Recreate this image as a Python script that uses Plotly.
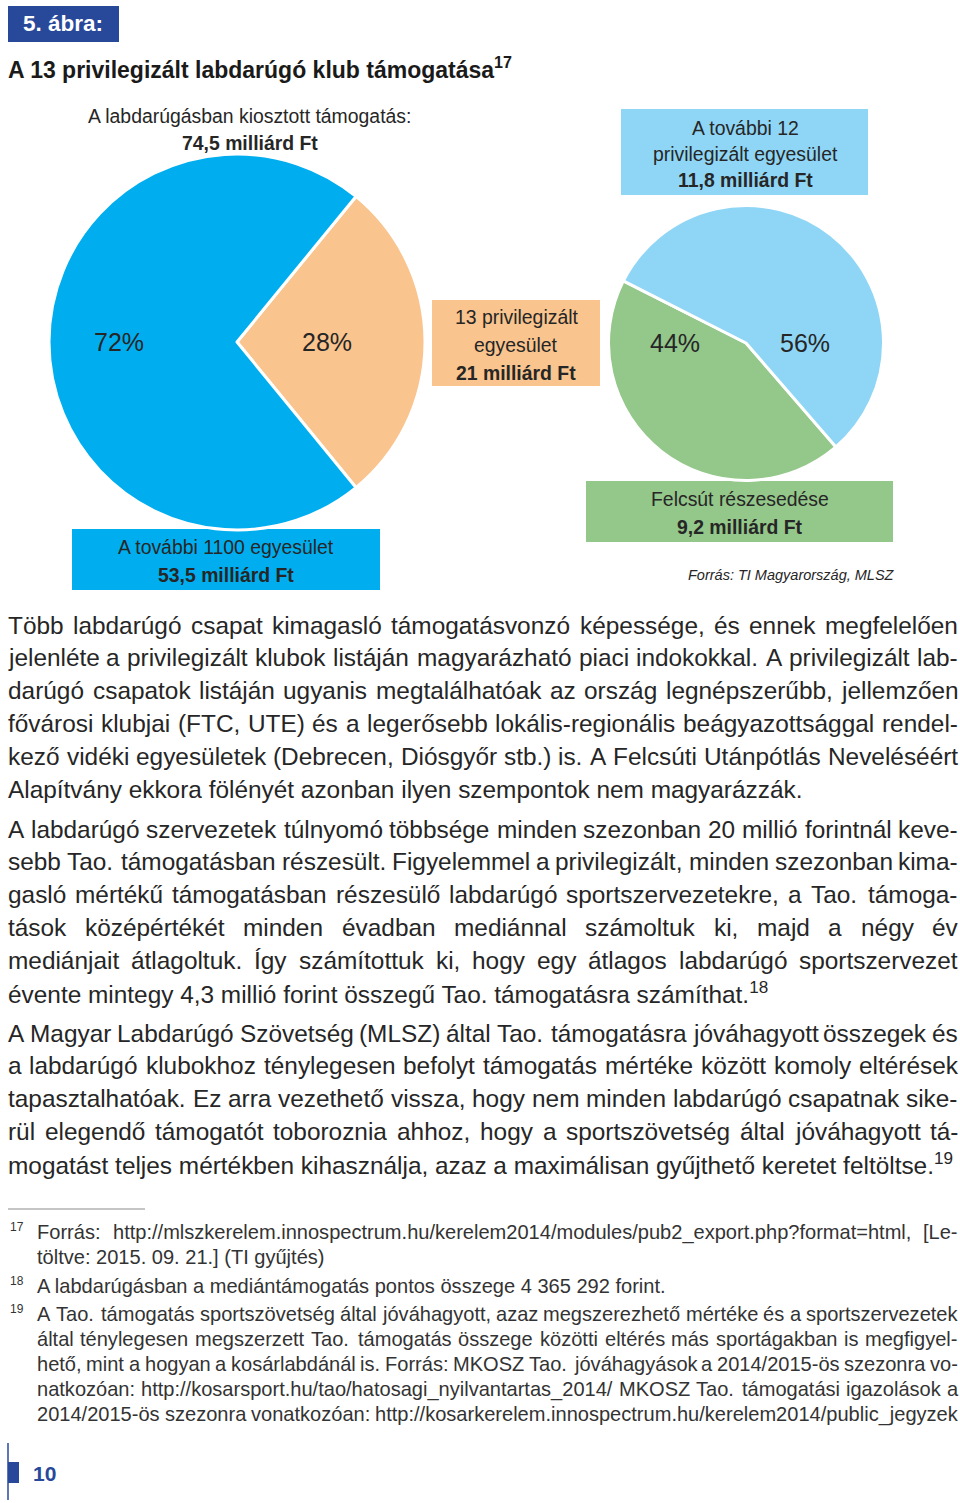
import re
import plotly.graph_objects as go

W, H = 960, 1503

# ------------------------------------------------------------------ data
left_labels = ["13 privilegizált egyesület", "A további 1100 egyesület"]
left_values = [21.0, 53.5]            # milliárd Ft
right_labels = ["Felcsút részesedése", "A további 12 privilegizált egyesület"]
right_values = [9.2, 11.8]            # milliárd Ft

fig_tag = "5. ábra:"
fig_title = "A 13 privilegizált labdarúgó klub támogatása"
title_note = "17"
total_caption = "A labdarúgásban kiosztott támogatás:"
source_text = "Forrás: TI Magyarország, MLSZ"
unit = "milliárd Ft"

para1 = [
    "Több labdarúgó csapat kimagasló támogatásvonzó képessége, és ennek megfelelően",
    "jelenléte a privilegizált klubok listáján magyarázható piaci indokokkal. A privilegizált lab-",
    "darúgó csapatok listáján ugyanis megtalálhatóak az ország legnépszerűbb, jellemzően",
    "fővárosi klubjai (FTC, UTE) és a legerősebb lokális-regionális beágyazottsággal rendel-",
    "kező vidéki egyesületek (Debrecen, Diósgyőr stb.) is. A Felcsúti Utánpótlás Neveléséért",
    "Alapítvány ekkora fölényét azonban ilyen szempontok nem magyarázzák.",
]
para2 = [
    "A labdarúgó szervezetek túlnyomó többsége minden szezonban 20 millió forintnál keve-",
    "sebb Tao. támogatásban részesült. Figyelemmel a privilegizált, minden szezonban kima-",
    "gasló mértékű támogatásban részesülő labdarúgó sportszervezetekre, a Tao. támoga-",
    "tások középértékét minden évadban mediánnal számoltuk ki, majd a négy év",
    "mediánjait átlagoltuk. Így számítottuk ki, hogy egy átlagos labdarúgó sportszervezet",
    "évente mintegy 4,3 millió forint összegű Tao. támogatásra számíthat.<sup>18</sup>",
]
para3 = [
    "A Magyar Labdarúgó Szövetség (MLSZ) által Tao. támogatásra jóváhagyott összegek és",
    "a labdarúgó klubokhoz ténylegesen befolyt támogatás mértéke között komoly eltérések",
    "tapasztalhatóak. Ez arra vezethető vissza, hogy nem minden labdarúgó csapatnak sike-",
    "rül elegendő támogatót toboroznia ahhoz, hogy a sportszövetség által jóváhagyott tá-",
    "mogatást teljes mértékben kihasználja, azaz a maximálisan gyűjthető keretet feltöltse.<sup>19</sup>",
]
footnote_nums = ["17", "18", "19"]
footnote_lines = [
    ["Forrás:  http://mlszkerelem.innospectrum.hu/kerelem2014/modules/pub2_export.php?format=html,  [Le-",
     "töltve: 2015. 09. 21.] (TI gyűjtés)"],
    ["A labdarúgásban a mediántámogatás pontos összege 4 365 292 forint."],
    ["A Tao. támogatás sportszövetség által jóváhagyott, azaz megszerezhető mértéke és a sportszervezetek",
     "által ténylegesen megszerzett Tao. támogatás összege közötti eltérés más sportágakban is megfigyel-",
     "hető, mint a hogyan a kosárlabdánál is. Forrás: MKOSZ Tao. jóváhagyások a 2014/2015-ös szezonra vo-",
     "natkozóan: http://kosarsport.hu/tao/hatosagi_nyilvantartas_2014/ MKOSZ Tao. támogatási igazolások a",
     "2014/2015-ös szezonra vonatkozóan: http://kosarkerelem.innospectrum.hu/kerelem2014/public_jegyzek"],
]
page_number = "10"

# ------------------------------------------------------------------ styles
C_BLUE = "#00aeef"
C_ORANGE = "#f9c48d"
C_LBLUE = "#8fd6f6"
C_GREEN = "#94c78a"
C_DARK = "#28489a"
C_TEXT = "#262626"
BODY_FONT = "Liberation Sans, Arial, Helvetica, sans-serif"
LABEL_FONT = BODY_FONT

# Arial-compatible advance widths (per 1000 em) for justification
REG = {' ': 278, '!': 278, '%': 889, '(': 333, ')': 333, ',': 278, '-': 333, '.': 278, '/': 278,
       ':': 278, ';': 278, '?': 556, '=': 584, '[': 278, ']': 278, '_': 556,
       'A': 667, 'B': 667, 'C': 722, 'D': 722, 'E': 667, 'F': 611, 'G': 778, 'H': 722, 'I': 278,
       'J': 500, 'K': 667, 'L': 556, 'M': 833, 'N': 722, 'O': 778, 'P': 667, 'Q': 778, 'R': 722,
       'S': 667, 'T': 611, 'U': 722, 'V': 667, 'W': 944, 'X': 667, 'Y': 667, 'Z': 611,
       'a': 556, 'b': 556, 'c': 500, 'd': 556, 'e': 556, 'f': 278, 'g': 556, 'h': 556, 'i': 222,
       'j': 222, 'k': 500, 'l': 222, 'm': 833, 'n': 556, 'o': 556, 'p': 556, 'q': 556, 'r': 333,
       's': 500, 't': 278, 'u': 556, 'v': 500, 'w': 722, 'x': 500, 'y': 500, 'z': 500,
       'á': 556, 'é': 556, 'í': 278, 'ó': 556, 'ö': 556, 'ő': 556, 'ú': 556, 'ü': 556, 'ű': 556,
       'Á': 667, 'É': 667, 'Í': 278, 'Ó': 778, 'Ö': 778, 'Ő': 778, 'Ú': 722, 'Ü': 722, 'Ű': 722}
for d in "0123456789":
    REG[d] = 556


def units(s):
    s = re.sub(r"<sup>.*?</sup>", "", s)
    return sum(REG.get(c, 556) for c in s)


def X(px):
    return px / W


def Y(py):
    return 1 - py / H


annotations = []
shapes = []


def txt(x, y, s, size, color=C_TEXT, family=BODY_FONT, anchor="left"):
    annotations.append(dict(
        x=X(x), y=Y(y), xref="paper", yref="paper", text=s, showarrow=False,
        xanchor=anchor, yanchor="middle", borderpad=0, borderwidth=0,
        font=dict(size=size, color=color, family=family)))


def rect(x0, y0, x1, y1, color):
    shapes.append(dict(type="rect", xref="paper", yref="paper", x0=X(x0), x1=X(x1),
                       y0=Y(y1), y1=Y(y0), fillcolor=color, line=dict(width=0), layer="below"))


def line(x0, y0, x1, y1, color, width):
    shapes.append(dict(type="line", xref="paper", yref="paper", x0=X(x0), x1=X(x1),
                       y0=Y(y0), y1=Y(y1), line=dict(color=color, width=width)))


def fmt(v):
    s = f"{v:.1f}"
    if s.endswith(".0"):
        s = s[:-2]
    return s.replace(".", ",")


def fit_size(lines, avail, min_gap=0.2):
    best = 1e9
    for ln in lines:
        words = ln.split()
        u = sum(units(w) for w in words) / 1000 + min_gap * (len(words) - 1)
        best = min(best, avail / u)
    return best


def justify(ln, x0, x1, y, fs, color):
    words = ln.split()
    widths = [units(w) * fs / 1000 for w in words]
    gap = (x1 - x0 - sum(widths)) / max(len(words) - 1, 1)
    x = x0
    for w, wd in zip(words, widths):
        txt(x, y, w, fs, color=color)
        x += wd + gap


# ------------------------------------------------------------------ pies
LCX, LCY, LR = 237, 342, 188
RCX, RCY, RR = 746, 343, 137.5
RIGHT_MID_ANGLE = 218

ltot = sum(left_values)
rtot = sum(right_values)


def dom(cx, cy, r):
    return dict(x=[X(cx - r), X(cx + r)], y=[Y(cy + r), Y(cy - r)])


fig = go.Figure()
fig.add_trace(go.Pie(
    labels=left_labels, values=left_values, sort=False, direction="clockwise",
    rotation=90 - 180 * left_values[0] / ltot, domain=dom(LCX, LCY, LR),
    marker=dict(colors=[C_ORANGE, C_BLUE], line=dict(color="white", width=3)),
    textinfo="none", hoverinfo="skip", showlegend=False))
fig.add_trace(go.Pie(
    labels=right_labels, values=right_values, sort=False, direction="clockwise",
    rotation=RIGHT_MID_ANGLE - 180 * right_values[0] / rtot, domain=dom(RCX, RCY, RR),
    marker=dict(colors=[C_GREEN, C_LBLUE], line=dict(color="white", width=3)),
    textinfo="none", hoverinfo="skip", showlegend=False))

# percentage labels
PS = 25
lp = [round(100 * v / ltot) for v in left_values]
rp = [round(100 * v / rtot) for v in right_values]
txt(LCX - 0.63 * LR, LCY, f"{lp[1]}%", PS, family=LABEL_FONT, anchor="center")
txt(LCX + 0.48 * LR, LCY, f"{lp[0]}%", PS, family=LABEL_FONT, anchor="center")
txt(RCX - 0.52 * RR, RCY, f"{rp[0]}%", PS, family=LABEL_FONT, anchor="center")
txt(RCX + 0.43 * RR, RCY, f"{rp[1]}%", PS, family=LABEL_FONT, anchor="center")

# ------------------------------------------------------------------ chart boxes & labels
LS = 19.4
rect(8, 6, 119, 42, C_DARK)
txt(23, 24, f"<b>{fig_tag}</b>", 22.5, color="white")
txt(8, 68, f"<b>{fig_title}</b><sup><b>{title_note}</b></sup>", 23, color="#1a1a1a")

txt(249, 116, total_caption, LS, family=LABEL_FONT, anchor="center")
txt(250, 143, f"<b>{fmt(ltot)} {unit}</b>", LS, family=LABEL_FONT, anchor="center")

rect(621, 109, 868, 195, C_LBLUE)
txt(745, 128, "A további 12", LS, family=LABEL_FONT, anchor="center")
txt(745, 154, "privilegizált egyesület", LS, family=LABEL_FONT, anchor="center")
txt(745, 180, f"<b>{fmt(right_values[1])} {unit}</b>", LS, family=LABEL_FONT, anchor="center")

rect(432, 300, 600, 386, C_ORANGE)
txt(516, 317, "13 privilegizált", LS, family=LABEL_FONT, anchor="center")
txt(516, 345, "egyesület", LS, family=LABEL_FONT, anchor="center")
txt(516, 373, f"<b>{fmt(left_values[0])} {unit}</b>", LS, family=LABEL_FONT, anchor="center")

rect(72, 529, 380, 590, C_BLUE)
txt(226, 547, left_labels[1], LS, family=LABEL_FONT, anchor="center")
txt(226, 575, f"<b>{fmt(left_values[1])} {unit}</b>", LS, family=LABEL_FONT, anchor="center")

rect(586, 481, 893, 542, C_GREEN)
txt(740, 499, right_labels[0], LS, family=LABEL_FONT, anchor="center")
txt(740, 527, f"<b>{fmt(right_values[0])} {unit}</b>", LS, family=LABEL_FONT, anchor="center")

txt(895, 575, f"<i>{source_text}</i>", 14.5, family=LABEL_FONT, anchor="right")

# ------------------------------------------------------------------ body text
BX0, BX1 = 8, 958
all_just = [l for p in (para1, para2, para3) for l in p[:-1]]
fs_body = min(795 / units(para1[-1]) * 1000, fit_size(all_just, BX1 - BX0))
STEP = 32.8
for para, y0 in ((para1, 625), (para2, 829), (para3, 1033)):
    for i, ln in enumerate(para):
        y = y0 + i * STEP
        if i < len(para) - 1:
            justify(ln, BX0, BX1, y, fs_body, C_TEXT)
        else:
            txt(BX0, y, ln, fs_body)

# ------------------------------------------------------------------ footnotes
line(8, 1209, 145, 1209, "#8c8c8c", 1.2)
FX0, FX1 = 37, 958
fjust = [footnote_lines[0][0]] + footnote_lines[2]
fs_foot = min(630 / units(footnote_lines[1][0]) * 1000, fit_size(fjust, FX1 - FX0, 0.15))
FSTEP = 25
for num, lines, y0 in zip(footnote_nums, footnote_lines, (1232, 1286, 1314)):
    txt(10, y0 - 5, num, 12, color="#333333")
    for i, ln in enumerate(lines):
        y = y0 + i * FSTEP
        if ln in fjust:
            justify(ln, FX0, FX1, y, fs_foot, "#333333")
        else:
            txt(FX0, y, ln, fs_foot, color="#333333")

# ------------------------------------------------------------------ page number
line(8, 1443, 8, 1500, C_DARK, 1.5)
rect(8, 1462, 19, 1483, C_DARK)
txt(33, 1473, f"<b>{page_number}</b>", 21, color=C_DARK)

fig.update_layout(
    width=W, height=H, margin=dict(l=0, r=0, t=0, b=0),
    paper_bgcolor="white", plot_bgcolor="white", showlegend=False,
    shapes=shapes, annotations=annotations)

fig.write_html("out.html", config={"displayModeBar": False},
               post_script="document.body.style.margin='0px';document.body.style.overflow='hidden';")
